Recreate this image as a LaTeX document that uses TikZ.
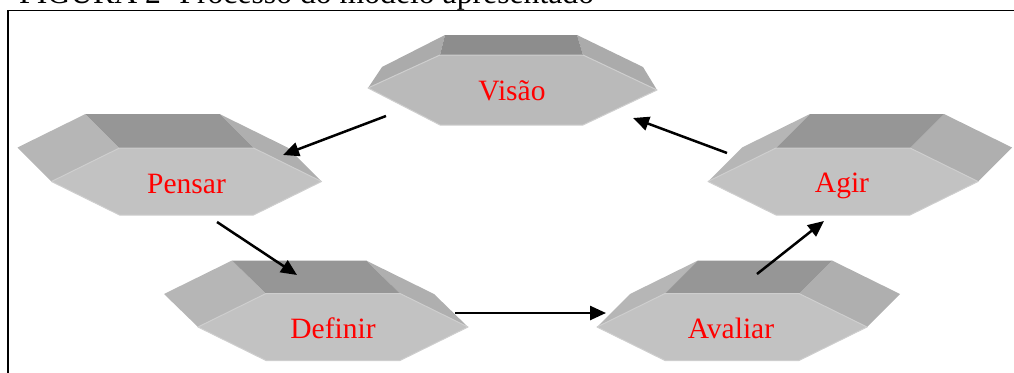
\documentclass[tikz,border=0pt]{standalone}
\usepackage{fontspec}
\setmainfont{Liberation Serif}
\usetikzlibrary{arrows.meta}
\definecolor{frontc}{RGB}{194,194,194}
\definecolor{rimc}{RGB}{206,206,206}
\definecolor{topc}{RGB}{150,150,150}
\definecolor{leftc}{RGB}{182,182,182}
\definecolor{rightc}{RGB}{175,175,175}
\definecolor{vfrontc}{RGB}{186,186,186}
\definecolor{vtopc}{RGB}{141,141,141}
\definecolor{vsidec}{RGB}{171,171,171}
\definecolor{lblred}{RGB}{255,0,0}
\tikzset{
  lbl/.style={text=lblred, font=\fontsize{29.5}{30}\selectfont, anchor=base, inner sep=0pt},
  flow/.style={line width=2.5pt, -{Triangle[length=16pt,width=14pt]}},
  frontface/.style={fill=frontc, draw=rimc, line width=1pt, line join=round},
}
\newcommand\hexprism[4]{%
  \begin{scope}[shift={(#1,#2)}]
    \fill[leftc] ({-135+(#3)},{#4}) -- ({-67+(#3)},{-33.5+(#4)}) -- (-67,-33.5) -- (-135,0) -- cycle;
    \fill[rightc] ({67+(#3)},{-33.5+(#4)}) -- ({135+(#3)},{#4}) -- (135,0) -- (67,-33.5) -- cycle;
    \fill[topc] ({-67+(#3)},{-33.5+(#4)}) -- ({67+(#3)},{-33.5+(#4)}) -- (67,-33.5) -- (-67,-33.5) -- cycle;
    \path[frontface] (-135,0) -- (-67,-33.5) -- (67,-33.5) -- (135,0) -- (67,33.5) -- (-67,33.5) -- cycle;
  \end{scope}}
\begin{document}
\begin{tikzpicture}[x=1pt,y=-1pt]
\useasboundingbox (0,0) rectangle (1014,372);
% title and frame
\node[anchor=base west, inner sep=0pt, font=\fontsize{31.7}{32}\selectfont] (title) at (19,4) {FIGURA 2- Processo do modelo apresentado};
\draw[line width=1.6pt] (8,400) -- (8,10.5) -- (1030,10.5);
% Visao (perspective)
\fill[vsidec] (382,67) -- (445,35) -- (440,55) -- (368,88) -- cycle;
\fill[vsidec] (577,35) -- (643,67) -- (657,90) -- (583,55) -- cycle;
\fill[vtopc] (445,35) -- (577,35) -- (583,55) -- (440,55) -- cycle;
\path[frontface, fill=vfrontc] (368,88) -- (440,55) -- (583,55) -- (657,90) -- (583,125) -- (440,125) -- cycle;
% other prisms
\hexprism{186.5}{181.5}{-34}{-34}
\hexprism{333}{327}{-34}{-33}
\hexprism{732}{327}{33}{-33}
\hexprism{843}{181.5}{34}{-34}
% labels
\node[lbl] (visao) at (512,100) {Visão};
\node[lbl] (pensar) at (186.5,193) {Pensar};
\node[lbl] (definir) at (333,338) {Definir};
\node[lbl] (avaliar) at (731,338) {Avaliar};
\node[lbl] (agir) at (842,192) {Agir};
% connector ends
\coordinate (v1) at (386,116);
\coordinate (p1) at (283,155);
\coordinate (p2) at (217,222);
\coordinate (d1) at (297,275);
\coordinate (d2) at (455,313);
\coordinate (a1) at (606,313);
\coordinate (a2) at (757,274);
\coordinate (g1) at (824,221);
\coordinate (g2) at (727,153);
\coordinate (v2) at (633,118);
\draw[flow] (v1) -- (p1);
\draw[flow] (p2) -- (d1);
\draw[flow] (d2) -- (a1);
\draw[flow] (a2) -- (g1);
\draw[flow] (g2) -- (v2);
\end{tikzpicture}
\end{document}
